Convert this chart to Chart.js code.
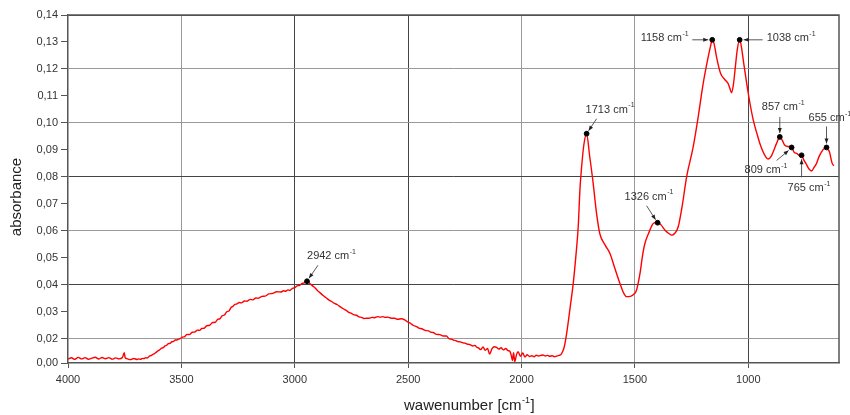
<!DOCTYPE html>
<html>
<head>
    <meta charset="UTF-8" />
    <title>IR spectrum</title>
    <script src="https://cdn.jsdelivr.net/npm/chart.js@4.4.1/dist/chart.umd.min.js"></script>
    <style>
        body { margin: 0; background: white; }
        #wrap { width: 850px; height: 415px; }
    </style>
</head>
<body>
    <div id="wrap"><canvas id="spectrum" width="850" height="415"></canvas></div>
    <script>
        // spectrum: wavenumber [cm-1] and absorbance
        const wavenumber = [
            4000, 3985, 3970, 3955, 3940, 3925, 3910, 3895, 3880, 3865, 3850, 3835, 3820, 3805, 3790, 3775, 3760, 3752, 3748, 3740,
            3725, 3710, 3695, 3688, 3680, 3672, 3665, 3657, 3650, 3640, 3632, 3625, 3617, 3610, 3603, 3596, 3588, 3580, 3572, 3565,
            3557, 3550, 3542, 3535, 3527, 3520, 3512, 3504, 3495, 3485, 3475, 3465, 3452, 3440, 3430, 3419, 3410, 3400, 3388, 3375,
            3362, 3350, 3340, 3330, 3320, 3310, 3300, 3290, 3281, 3273, 3264, 3255, 3245, 3235, 3222, 3210, 3197, 3185, 3172, 3160,
            3145, 3130, 3115, 3097, 3080, 3060, 3050, 3040, 3030, 3022, 3010, 3000, 2990, 2978, 2968, 2960, 2952, 2946, 2940, 2935,
            2920, 2910, 2900, 2888, 2875, 2862, 2850, 2838, 2825, 2812, 2802, 2788, 2775, 2762, 2750, 2740, 2728, 2716, 2705, 2695,
            2684, 2672, 2660, 2648, 2635, 2623, 2611, 2600, 2590, 2575, 2560, 2545, 2530, 2515, 2502, 2490, 2476, 2463, 2452, 2440,
            2425, 2410, 2400, 2390, 2375, 2360, 2345, 2331, 2320, 2310, 2300, 2290, 2280, 2270, 2258, 2249, 2240, 2232, 2225, 2215,
            2205, 2199, 2190, 2180, 2170, 2160, 2150, 2141, 2130, 2120, 2110, 2100, 2090, 2080, 2070, 2060, 2052, 2045, 2040, 2035,
            2030, 2022, 2015, 2005, 1995, 1985, 1975, 1965, 1955, 1945, 1935, 1925, 1915, 1905, 1895, 1885, 1875, 1865, 1855, 1845,
            1835, 1824, 1812, 1801, 1785, 1772, 1760, 1750, 1742, 1735, 1725, 1713, 1700, 1684, 1670, 1655, 1630, 1610, 1590, 1566,
            1550, 1537, 1520, 1505, 1493, 1478, 1466, 1456, 1440, 1419, 1400, 1385, 1365, 1350, 1338, 1325, 1309, 1290, 1272, 1243,
            1221, 1199, 1177, 1165, 1159, 1150, 1140, 1122, 1103, 1089, 1080, 1074, 1066, 1059, 1049, 1038, 1030, 1022, 1000, 978,
            960, 949, 927, 912, 900, 890, 875, 861, 850, 839, 820, 809, 797, 787, 775, 765, 755, 746, 733, 721,
            710, 699, 688, 677, 665, 655, 648, 642, 636, 630, 623
        ];
        const absorbance = [
            0.0032, 0.0043, 0.0030, 0.0046, 0.0034, 0.0044, 0.0031, 0.0040, 0.0047, 0.0033, 0.0045, 0.0035, 0.0044, 0.0032, 0.0042, 0.0034, 0.0045, 0.0085, 0.0045, 0.0036,
            0.0028, 0.0037, 0.0029, 0.0034, 0.0031, 0.0038, 0.0036, 0.0044, 0.0041, 0.0058, 0.0062, 0.0072, 0.0080, 0.0090, 0.0100, 0.0108, 0.0122, 0.0126, 0.0141, 0.0146,
            0.0160, 0.0162, 0.0175, 0.0177, 0.0189, 0.0190, 0.0197, 0.0201, 0.0206, 0.0208, 0.0216, 0.0215, 0.0224, 0.0225, 0.0232, 0.0231, 0.0238, 0.0239, 0.0248, 0.0250,
            0.0260, 0.0261, 0.0272, 0.0274, 0.0285, 0.0288, 0.0300, 0.0303, 0.0316, 0.0320, 0.0327, 0.0329, 0.0334, 0.0333, 0.0340, 0.0339, 0.0346, 0.0344, 0.0351, 0.0350,
            0.0357, 0.0358, 0.0366, 0.0368, 0.0374, 0.0373, 0.0378, 0.0376, 0.0381, 0.0379, 0.0387, 0.0389, 0.0396, 0.0398, 0.0405, 0.0406, 0.0412, 0.0413, 0.0410, 0.0406,
            0.0395, 0.0388, 0.0379, 0.0370, 0.0360, 0.0352, 0.0344, 0.0338, 0.0331, 0.0326, 0.0320, 0.0312, 0.0306, 0.0298, 0.0294, 0.0289, 0.0287, 0.0281, 0.0279, 0.0275,
            0.0276, 0.0276, 0.0279, 0.0278, 0.0282, 0.0280, 0.0282, 0.0279, 0.0280, 0.0276, 0.0276, 0.0272, 0.0274, 0.0270, 0.0262, 0.0257, 0.0249, 0.0245, 0.0239, 0.0237,
            0.0231, 0.0229, 0.0224, 0.0223, 0.0216, 0.0215, 0.0210, 0.0210, 0.0200, 0.0197, 0.0188, 0.0185, 0.0176, 0.0174, 0.0166, 0.0164, 0.0156, 0.0153, 0.0150, 0.0140,
            0.0145, 0.0132, 0.0125, 0.0110, 0.0132, 0.0105, 0.0120, 0.0074, 0.0118, 0.0134, 0.0128, 0.0115, 0.0126, 0.0108, 0.0120, 0.0102, 0.0098, 0.0060, 0.0020, 0.0085,
            0.0012, 0.0070, 0.0093, 0.0055, 0.0082, 0.0050, 0.0068, 0.0054, 0.0060, 0.0052, 0.0064, 0.0058, 0.0062, 0.0066, 0.0058, 0.0063, 0.0055, 0.0060, 0.0052, 0.0057,
            0.0062, 0.0075, 0.0130, 0.0220, 0.0320, 0.0405, 0.0510, 0.0615, 0.0760, 0.0837, 0.0920, 0.0960, 0.0880, 0.0776, 0.0670, 0.0590, 0.0545, 0.0516, 0.0465, 0.0405,
            0.0370, 0.0356, 0.0357, 0.0365, 0.0380, 0.0440, 0.0510, 0.0553, 0.0590, 0.0627, 0.0632, 0.0622, 0.0600, 0.0590, 0.0584, 0.0590, 0.0615, 0.0700, 0.0800, 0.0911,
            0.1022, 0.1146, 0.1244, 0.1290, 0.1310, 0.1290, 0.1244, 0.1183, 0.1160, 0.1146, 0.1125, 0.1112, 0.1140, 0.1192, 0.1269, 0.1310, 0.1280, 0.1232, 0.1109, 0.1010,
            0.0955, 0.0924, 0.0880, 0.0866, 0.0875, 0.0893, 0.0925, 0.0948, 0.0935, 0.0917, 0.0912, 0.0909, 0.0890, 0.0887, 0.0880, 0.0880, 0.0862, 0.0850, 0.0830, 0.0822,
            0.0835, 0.0850, 0.0875, 0.0893, 0.0905, 0.0909, 0.0900, 0.0893, 0.0870, 0.0850, 0.0841
        ];

        // marked peaks: where the dot sits, and the label printed next to it
        const peakPos = [2946, 1713, 1400, 1159, 1038, 861, 809, 765, 655];
        const peakAbs = [0.0413, 0.0960, 0.0630, 0.1308, 0.1308, 0.0948, 0.0909, 0.0880, 0.0909];
        const peakText = ['2942', '1713', '1326', '1158', '1038', '857', '809', '765', '655'];

        const xTicks = [4000, 3500, 3000, 2500, 2000, 1500, 1000];
        const yTicks = [0, 0.02, 0.03, 0.04, 0.05, 0.06, 0.07, 0.08, 0.09, 0.10, 0.11, 0.12, 0.13, 0.14];

        // label placement relative to each dot (px): text x/y, align, arrow start, arrow end
        const peakLayout = [
            { tx: 0, ty: -25, al: 'left', a: [11, -16, 2, -3] },
            { tx: -1, ty: -24, al: 'left', a: [10, -15, 2, -3] },
            { tx: -33, ty: -26, al: 'left', a: [-11, -17, -2, -3] },
            { tx: -24, ty: -2, al: 'right', a: [-20, 0, -4, 0] },
            { tx: 27, ty: -2, al: 'left', a: [23, 0, 4, 0] },
            { tx: -18, ty: -30, al: 'left', a: [0, -20, 0, -4] },
            { tx: -47, ty: 23, al: 'left', a: [-15, 13, -3, 3] },
            { tx: -14, ty: 33, al: 'left', a: [0, 22, 0, 4] },
            { tx: -18, ty: -29, al: 'left', a: [0, -21, 0, -4] }
        ];

        const FONT = "'Liberation Sans', Arial, sans-serif";

        // the picture's y axis skips 0,01: 0,00..0,02 is squeezed into one step
        const yBreak = 0.02;
        const yLow = 0.011;
        class BrokenLinear extends Chart.LinearScale {
            static id = 'brokenLinear';
            static defaults = Chart.LinearScale.defaults;
            getPixelForValue(v) {
                if (v < yBreak) v = yLow + v * (yBreak - yLow) / yBreak;
                return super.getPixelForValue(v);
            }
            getValueForPixel(p) {
                let v = super.getValueForPixel(p);
                if (v < yBreak) v = (v - yLow) * yBreak / (yBreak - yLow);
                return v;
            }
        }
        Chart.register(BrokenLinear);

        function gridShade(v, dark) {
            return dark.indexOf(v) >= 0 ? '#444' : '#9a9a9a';
        }

        // text followed by a superscript "-1"
        function drawCm(ctx, text, x, y, size, align) {
            ctx.font = size + 'px ' + FONT;
            let w1 = ctx.measureText(text).width;
            ctx.font = Math.round(size * 0.62) + 'px ' + FONT;
            let w2 = ctx.measureText('-1').width;
            let x0 = align == 'right' ? x - w1 - w2 : x;
            ctx.textAlign = 'left';
            ctx.textBaseline = 'middle';
            ctx.font = size + 'px ' + FONT;
            ctx.fillText(text, x0, y);
            ctx.font = Math.round(size * 0.62) + 'px ' + FONT;
            ctx.fillText('-1', x0 + w1 + 0.5, y - size * 0.38);
            return x0 + w1 + w2;
        }

        const extras = {
            id: 'extras',
            afterDraw(chart) {
                const ctx = chart.ctx;
                const a = chart.chartArea;
                const xs = chart.scales.x, ys = chart.scales.y;
                ctx.save();
                // top and right frame
                ctx.strokeStyle = '#555';
                ctx.lineWidth = 1.5;
                ctx.beginPath();
                ctx.moveTo(a.left, a.top);
                ctx.lineTo(a.right, a.top);
                ctx.lineTo(a.right, a.bottom);
                ctx.stroke();

                // peak labels and arrows
                for (let i = 0; i < peakPos.length; i++) {
                    let px = xs.getPixelForValue(peakPos[i]);
                    let py = ys.getPixelForValue(peakAbs[i]);
                    let L = peakLayout[i];
                    ctx.fillStyle = '#333';
                    drawCm(ctx, peakText[i] + ' cm', px + L.tx, py + L.ty, 11, L.al);
                    let [x0, y0, x1, y1] = L.a;
                    x0 += px; y0 += py; x1 += px; y1 += py;
                    ctx.strokeStyle = '#444';
                    ctx.lineWidth = 0.9;
                    ctx.beginPath();
                    ctx.moveTo(x0, y0);
                    ctx.lineTo(x1, y1);
                    ctx.stroke();
                    let ang = Math.atan2(y1 - y0, x1 - x0);
                    ctx.beginPath();
                    ctx.moveTo(x1, y1);
                    ctx.lineTo(x1 - 5 * Math.cos(ang) + 2 * Math.sin(ang), y1 - 5 * Math.sin(ang) - 2 * Math.cos(ang));
                    ctx.lineTo(x1 - 5 * Math.cos(ang) - 2 * Math.sin(ang), y1 - 5 * Math.sin(ang) + 2 * Math.cos(ang));
                    ctx.closePath();
                    ctx.fillStyle = '#222';
                    ctx.fill();
                }

                // axis titles
                ctx.fillStyle = '#222';
                let endX = drawCm(ctx, 'wawenumber [cm', 404, 406, 15, 'left');
                ctx.font = '15px ' + FONT;
                ctx.fillText(']', endX + 1, 406);

                ctx.translate(17, 197);
                ctx.rotate(-Math.PI / 2);
                ctx.textAlign = 'center';
                ctx.textBaseline = 'middle';
                ctx.fillText('absorbance', 0, 0);
                ctx.restore();
            }
        };

        const data = {
            datasets: [{
                type: 'line',
                data: wavenumber.map((w, i) => ({ x: w, y: absorbance[i] })),
                borderColor: 'rgb(255,0,0)',
                borderWidth: 1.4,
                pointRadius: 0,
                cubicInterpolationMode: 'monotone',
                order: 2
            }, {
                type: 'scatter',
                data: peakPos.map((w, i) => ({ x: w, y: peakAbs[i] })),
                backgroundColor: '#000',
                borderColor: '#000',
                pointRadius: 2.4,
                order: 1
            }]
        };

        const options = {
            responsive: false,
            animation: false,
            events: [],
            layout: { padding: { top: 15, right: 11, left: 0, bottom: 0 } },
            plugins: { legend: { display: false }, tooltip: { enabled: false } },
            scales: {
                x: {
                    type: 'linear',
                    reverse: true,
                    min: 600,
                    max: 4000,
                    afterBuildTicks: function (axis) {
                        axis.ticks = xTicks.map(v => ({ value: v }));
                    },
                    afterFit: function (axis) { axis.height = 52; },
                    ticks: {
                        callback: v => String(v),
                        color: '#333',
                        font: { family: FONT, size: 11 },
                        padding: 5,
                        maxRotation: 0
                    },
                    grid: {
                        color: ctx => ctx.tick && ctx.tick.value == 4000 ? 'rgba(0,0,0,0)' : gridShade(ctx.tick ? ctx.tick.value : 0, [3000, 2500, 1000]),
                        lineWidth: 1,
                        tickLength: 5,
                        tickColor: '#555'
                    },
                    border: { color: '#555', width: 1.5 }
                },
                y: {
                    type: 'brokenLinear',
                    min: yLow,
                    max: 0.14,
                    afterBuildTicks: function (axis) {
                        axis.ticks = yTicks.map(v => ({ value: v }));
                    },
                    afterFit: function (axis) { axis.width = 68; },
                    ticks: {
                        callback: v => v.toFixed(2).replace('.', ','),
                        color: '#333',
                        font: { family: FONT, size: 11 },
                        padding: 3
                    },
                    grid: {
                        color: function (ctx) {
                            let v = ctx.tick ? Math.round(ctx.tick.value * 100) : 0;
                            if (v == 0 || v % 2 == 1) return 'rgba(0,0,0,0)';
                            return gridShade(v, [4, 8, 14]);
                        },
                        lineWidth: 1,
                        tickLength: 7,
                        tickColor: '#555'
                    },
                    border: { color: '#555', width: 1.5 }
                }
            }
        };

        new Chart('spectrum', { data: data, options: options, plugins: [extras] });
    </script>
</body>
</html>
